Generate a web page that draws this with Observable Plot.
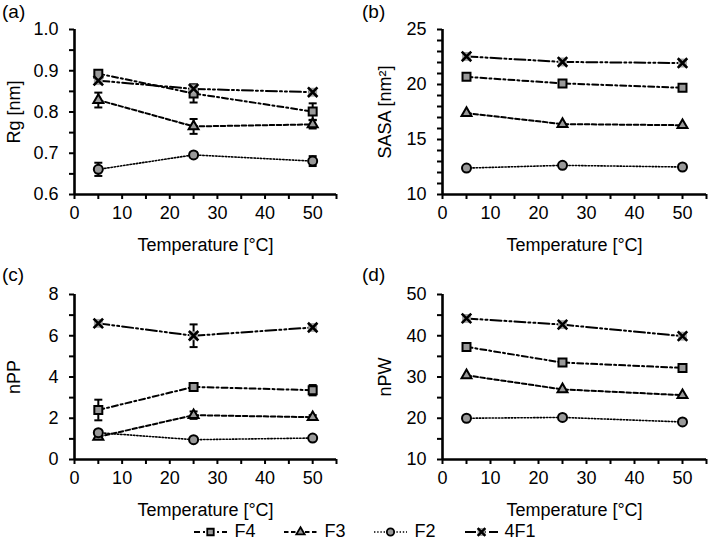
<!DOCTYPE html>
<html><head><meta charset="utf-8">
<script src="https://cdn.jsdelivr.net/npm/d3@7"></script>
<script src="https://cdn.jsdelivr.net/npm/@observablehq/plot@0.6"></script>
<style>
body{margin:0;background:#fff;font-family:"Liberation Sans",Arial,sans-serif;}
#wrap{position:relative;width:709px;height:550px;overflow:hidden;}
.panel{position:absolute;}
.tag{position:absolute;font-size:19px;color:#000;}
#legend{position:absolute;left:0;top:521px;width:709px;padding-left:20px;box-sizing:border-box;display:flex;justify-content:center;align-items:center;font-size:18px;color:#000;}
#legend .item{display:flex;align-items:center;margin:0 14px;}
#legend svg{margin-right:6px;}
</style></head><body><div id="wrap"></div>
<script>
// ---------- data ----------
const temps = [5, 25, 50];
const seriesNames = ["F4", "F3", "F2", "4F1"];

// (a) Rg [nm]
const rgF4 = [0.893, 0.845, 0.801], rgF4Err = [0.006, 0.022, 0.020];
const rgF3 = [0.829, 0.765, 0.770], rgF3Err = [0.018, 0.018, 0.010];
const rgF2 = [0.661, 0.696, 0.681], rgF2Err = [0.016, 0.006, 0.012];
const rg4F1 = [0.876, 0.856, 0.848], rg4F1Err = [0.006, 0.010, 0.005];

// (b) SASA [nm2]
const sasaF4 = [20.7, 20.1, 19.7];
const sasaF3 = [17.4, 16.4, 16.3];
const sasaF2 = [12.4, 12.65, 12.5];
const sasa4F1 = [22.55, 22.05, 21.95];

// (c) nPP
const nppF4 = [2.4, 3.52, 3.36], nppF4Err = [0.5, 0.12, 0.25];
const nppF3 = [1.1, 2.15, 2.05], nppF3Err = [0.1, 0.18, 0.1];
const nppF2 = [1.3, 0.96, 1.04], nppF2Err = [0.1, 0.05, 0.05];
const npp4F1 = [6.6, 6.0, 6.4], npp4F1Err = [0.1, 0.55, 0.1];

// (d) nPW
const npwF4 = [37.3, 33.5, 32.2];
const npwF3 = [30.4, 27.0, 25.6];
const npwF2 = [20.0, 20.2, 19.1];
const npw4F1 = [44.2, 42.7, 39.9];

// tick values
const xTicks = [0, 5, 10, 15, 20, 25, 30, 35, 40, 45, 50, 55];
const rgTicks = [0.6, 0.65, 0.7, 0.75, 0.8, 0.85, 0.9, 0.95, 1.0];
const sasaTicks = [10,11,12,13,14,15,16,17,18,19,20,21,22,23,24,25];
const nppTicks = [0,1,2,3,4,5,6,7,8];
const npwTicks = [10,15,20,25,30,35,40,45,50];

// ---------- styles ----------
const dash = {F4: "6,3,2,3", F3: "4.5,2.5", F2: "1.4,1.8", "4F1": "11,3,2,3,2,3"};
const lineW = {F4: 2, F3: 2, F2: 1.6, "4F1": 2};
const capSymbol = {draw(ctx, size) { const r = Math.sqrt(size / Math.PI); ctx.moveTo(-r, 0); ctx.lineTo(r, 0); }};

function rows(vals, errs) {
  const out = [];
  seriesNames.forEach((s, si) => {
    temps.forEach((t, i) => out.push({s, t, v: vals[si][i], e: errs ? errs[si][i] : 0}));
  });
  return out;
}

function markerMarks(data) {
  const by = s => data.filter(d => d.s === s);
  return [
    Plot.dot(by("F4"), {x: "t", y: "v", symbol: "square", r: 4.5, fill: "#999", stroke: "#000", strokeWidth: 2}),
    Plot.dot(by("F3"), {x: "t", y: "v", symbol: "triangle", r: 3.7, fill: "#999", stroke: "#000", strokeWidth: 2}),
    Plot.dot(by("F2"), {x: "t", y: "v", symbol: "circle", r: 4.5, fill: "#999", stroke: "#000", strokeWidth: 2}),
    Plot.dot(by("4F1"), {x: "t", y: "v", symbol: "square", r: 5, fill: "#a6a6a6"}),
    Plot.dot(by("4F1"), {x: "t", y: "v", symbol: "times", r: 4.4, stroke: "#000", strokeWidth: 2.6})
  ];
}

function panel({data, yDomain, yTicks, every, fmt, yLabel, left, top, mLeft, mRight, labelOffsetY}) {
  const hasErr = data.filter(d => d.e > 0);
  const marks = [
    Plot.axisY({ticks: yTicks, tickSize: 5, tickPadding: 11, strokeWidth: 2,
      tickFormat: (d, i) => i % every === 0 ? fmt(d) : "",
      label: yLabel, labelAnchor: "center", labelArrow: "none", labelOffset: labelOffsetY}),
    Plot.axisX({ticks: xTicks, tickSize: 5, tickPadding: 7, strokeWidth: 2,
      tickFormat: (d, i) => (i % 2 === 0 && d <= 50) ? String(d) : "",
      label: "Temperature [°C]", labelAnchor: "center", labelArrow: "none", labelOffset: 56}),
    Plot.ruleY([yDomain[0]], {stroke: "#000", strokeWidth: 2.6}),
    Plot.ruleX([0], {stroke: "#000", strokeWidth: 2.6}),
    ...seriesNames.map(s => Plot.line(data.filter(d => d.s === s), {x: "t", y: "v", stroke: "#000", strokeWidth: lineW[s], strokeDasharray: dash[s]})),
    Plot.ruleX(hasErr, {x: "t", y1: d => d.v - d.e, y2: d => d.v + d.e, stroke: "#000", strokeWidth: 2}),
    Plot.dot(hasErr, {x: "t", y: d => d.v + d.e, symbol: capSymbol, r: 4, stroke: "#000", strokeWidth: 2}),
    Plot.dot(hasErr, {x: "t", y: d => d.v - d.e, symbol: capSymbol, r: 4, stroke: "#000", strokeWidth: 2}),
    ...markerMarks(data)
  ];
  const svg = Plot.plot({
    width: 354, height: 255,
    marginTop: 29, marginBottom: 61, marginLeft: mLeft, marginRight: mRight,
    x: {domain: [0, 55]},
    y: {domain: yDomain},
    style: {fontFamily: '"Liberation Sans", Arial, sans-serif', fontSize: "18px", color: "#000", background: "transparent"},
    marks
  });
  svg.classList.add("panel");
  svg.style.left = left + "px";
  svg.style.top = top + "px";
  return svg;
}

const wrap = document.getElementById("wrap");
const f1 = d3.format(".1f"), f0 = d3.format("d");

wrap.appendChild(panel({data: rows([rgF4, rgF3, rgF2, rg4F1], [rgF4Err, rgF3Err, rgF2Err, rg4F1Err]),
  yDomain: [0.6, 1.0], yTicks: rgTicks, every: 2, fmt: f1, yLabel: "Rg [nm]", left: 0, top: 0, mLeft: 74, mRight: 18, labelOffsetY: 67}));
wrap.appendChild(panel({data: rows([sasaF4, sasaF3, sasaF2, sasa4F1]),
  yDomain: [10, 25], yTicks: sasaTicks, every: 5, fmt: f0, yLabel: "SASA [nm²]", left: 355, top: 0, mLeft: 87, mRight: 3, labelOffsetY: 64}));
wrap.appendChild(panel({data: rows([nppF4, nppF3, nppF2, npp4F1], [nppF4Err, nppF3Err, nppF2Err, npp4F1Err]),
  yDomain: [0, 8], yTicks: nppTicks, every: 2, fmt: f0, yLabel: "nPP", left: 0, top: 265, mLeft: 74, mRight: 18, labelOffsetY: 67}));
wrap.appendChild(panel({data: rows([npwF4, npwF3, npwF2, npw4F1]),
  yDomain: [10, 50], yTicks: npwTicks, every: 2, fmt: f0, yLabel: "nPW", left: 355, top: 265, mLeft: 87, mRight: 3, labelOffsetY: 64}));

// panel tags
[["(a)", 2, 1], ["(b)", 362, 1], ["(c)", 2, 264], ["(d)", 362, 264]].forEach(([t, x, y]) => {
  const d = document.createElement("div");
  d.className = "tag"; d.textContent = t; d.style.left = x + "px"; d.style.top = y + "px";
  wrap.appendChild(d);
});

// legend
const legend = document.createElement("div");
legend.id = "legend";
wrap.appendChild(legend);
const markerSym = {F4: d3.symbolSquare, F3: d3.symbolTriangle, F2: d3.symbolCircle};
const markerSize = {F4: 42, F3: 30, F2: 42};
seriesNames.forEach(s => {
  const item = document.createElement("div");
  item.className = "item";
  const w = 35, h = 16;
  const sv = d3.create("svg").attr("width", w).attr("height", h);
  sv.append("line").attr("x1", 1).attr("x2", w - 1).attr("y1", h / 2).attr("y2", h / 2)
    .attr("stroke", "#000").attr("stroke-width", lineW[s]).attr("stroke-dasharray", dash[s]);
  const g = sv.append("g").attr("transform", `translate(${w / 2},${h / 2})`);
  if (s === "4F1") {
    g.append("rect").attr("x", -4).attr("y", -4).attr("width", 8).attr("height", 8).attr("fill", "#a6a6a6");
    g.append("path").attr("d", d3.symbol(d3.symbolTimes, 40)()).attr("stroke", "#000").attr("stroke-width", 2.4).attr("fill", "none");
  } else {
    g.append("path").attr("d", d3.symbol(markerSym[s], markerSize[s])()).attr("fill", "#999").attr("stroke", "#000").attr("stroke-width", 1.8);
  }
  item.appendChild(sv.node());
  const lab = document.createElement("span");
  lab.textContent = s;
  item.appendChild(lab);
  legend.appendChild(item);
});
</script>
</body></html>
